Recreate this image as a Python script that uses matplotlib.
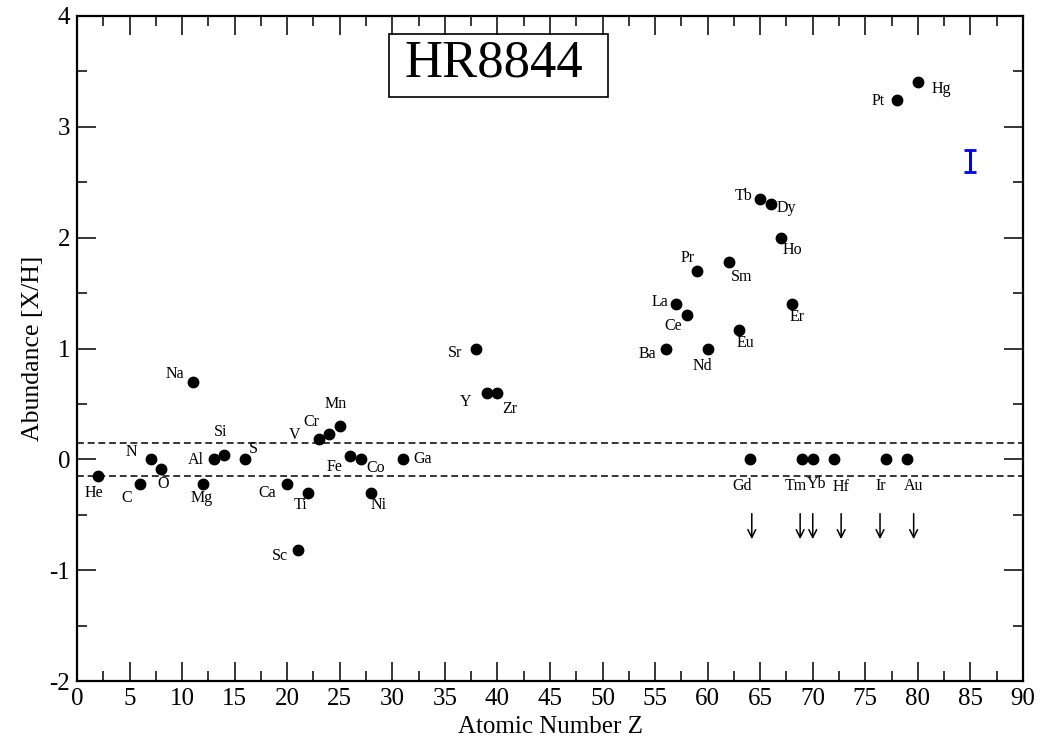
import matplotlib
matplotlib.use("Agg")
import matplotlib.pyplot as plt
from matplotlib.patches import Rectangle
from matplotlib.ticker import MultipleLocator

plt.rcParams['font.family'] = ['Liberation Serif', 'DejaVu Serif']
plt.rcParams['axes.unicode_minus'] = False

# element data: symbol, atomic number, abundance [X/H]
elements = ['He', 'C', 'N', 'O', 'Na', 'Mg', 'Al', 'Si', 'S', 'Ca', 'Sc', 'Ti',
            'V', 'Cr', 'Mn', 'Fe', 'Co', 'Ni', 'Ga', 'Sr', 'Y', 'Zr',
            'Ba', 'La', 'Ce', 'Pr', 'Nd', 'Sm', 'Eu', 'Gd', 'Tb', 'Dy', 'Ho',
            'Er', 'Tm', 'Yb', 'Hf', 'Ir', 'Pt', 'Au', 'Hg']
Z = [2, 6, 7, 8, 11, 12, 13, 14, 16, 20, 21, 22,
     23, 24, 25, 26, 27, 28, 31, 38, 39, 40,
     56, 57, 58, 59, 60, 62, 63, 64, 65, 66, 67,
     68, 69, 70, 72, 77, 78, 79, 80]
abund = [-0.15, -0.22, 0.0, -0.09, 0.70, -0.22, 0.0, 0.04, 0.0, -0.22, -0.82, -0.30,
         0.18, 0.23, 0.30, 0.03, 0.0, -0.30, 0.0, 1.0, 0.60, 0.60,
         1.0, 1.40, 1.30, 1.70, 1.0, 1.78, 1.17, 0.0, 2.35, 2.30, 2.0,
         1.40, 0.0, 0.0, 0.0, 0.0, 3.24, 0.0, 3.40]

# label offsets in pixels (dx, dy) relative to the point
offsets = {
    'He': (-4, -17), 'C': (-13, -14), 'N': (-19, 7), 'O': (2, -15),
    'Na': (-18, 8), 'Mg': (-1, -14), 'Al': (-18, -1), 'Si': (-4, 23),
    'S': (8, 10), 'Ca': (-20, -9), 'Sc': (-18, -6), 'Ti': (-8, -12),
    'V': (-24, 4), 'Cr': (-18, 12), 'Mn': (-4, 22), 'Fe': (-16, -11),
    'Co': (15, -9), 'Ni': (7, -12), 'Ga': (20, 0), 'Sr': (-21, -4),
    'Y': (-21, -9), 'Zr': (12, -16), 'Ba': (-18, -5), 'La': (-16, 2),
    'Ce': (-13, -11), 'Pr': (-9, 13), 'Nd': (-5, -17), 'Sm': (13, -15),
    'Eu': (6, -13), 'Gd': (-8, -27), 'Tb': (-17, 3), 'Dy': (16, -4),
    'Ho': (11, -12), 'Er': (5, -13), 'Tm': (-6, -27), 'Yb': (4, -25),
    'Hf': (7, -28), 'Ir': (-6, -27), 'Pt': (-19, -1), 'Au': (6, -27),
    'Hg': (23, -7),
}

# upper-limit arrows
arrow_x = [64.2, 68.8, 70.0, 72.7, 76.4, 79.6]
arrow_top = -0.49
arrow_bottom = -0.72

# solar band and typical error
band = 0.15
err_x, err_y, err_size = 85, 2.69, 0.10

fig = plt.figure(figsize=(10.43, 7.40), dpi=100)
ax = fig.add_axes([0.0738, 0.0797, 0.907, 0.8987])

ax.plot(Z, abund, 'o', color='black', markersize=7.5, zorder=3)
for el, x, y in zip(elements, Z, abund):
    ax.annotate(el, (x, y), xytext=offsets[el], textcoords='offset pixels',
                ha='center', va='center', fontsize=11.5)

ax.axhline(band, color='black', ls=(0, (4.5, 2.5)), lw=1.1)
ax.axhline(-band, color='black', ls=(0, (4.5, 2.5)), lw=1.1)

for x in arrow_x:
    ax.annotate('', xy=(x, arrow_bottom), xytext=(x, arrow_top),
                arrowprops=dict(arrowstyle='->', color='black', lw=1.1,
                                mutation_scale=14, shrinkA=0, shrinkB=0))

ax.errorbar([err_x], [err_y], yerr=[err_size], color='blue', lw=2.2,
            capsize=4, capthick=2, fmt='none')

ax.add_patch(Rectangle((0.330, 0.878), 0.2315, 0.0947, transform=ax.transAxes,
                       fill=False, ec='black', lw=1.2, zorder=4))
ax.text(0.441, 0.9286, 'HR8844', transform=ax.transAxes, ha='center',
        va='center', fontsize=38)

ax.set_xlim(0, 90)
ax.set_ylim(-2, 4)
ax.xaxis.set_major_locator(MultipleLocator(5))
ax.xaxis.set_minor_locator(MultipleLocator(2.5))
ax.yaxis.set_major_locator(MultipleLocator(1))
ax.yaxis.set_minor_locator(MultipleLocator(0.5))
ax.tick_params(which='both', direction='in', top=True, right=True, width=1.1)
ax.tick_params(which='major', length=14, labelsize=18)
ax.tick_params(axis='x', which='major', pad=5)
ax.tick_params(axis='y', which='major', pad=5)
ax.tick_params(which='minor', length=7)
for s in ax.spines.values():
    s.set_linewidth(1.6)

ax.set_xlabel('Atomic Number Z', fontsize=18, labelpad=4)
ax.set_ylabel('Abundance [X/H]', fontsize=18.5, labelpad=4)

fig.savefig('out.png', dpi=100)
